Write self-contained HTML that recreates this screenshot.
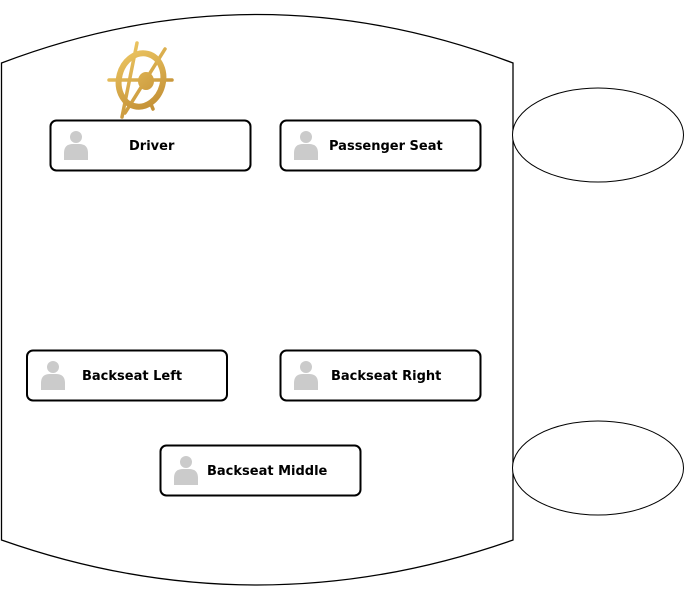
<!DOCTYPE html>
<html><head><style>body{margin:0;background:#fff}svg{display:block}text{font-family:"DejaVu Sans","Liberation Sans",sans-serif;font-weight:bold;font-size:13px;fill:#000}</style></head>
<body>
<svg width="684" height="604" viewBox="0 0 684 604">
<defs>
<g id="p"><circle cx="12" cy="8" r="6" fill="#cbcbcb"/><path d="M0 31 L0 24 Q0 15 9 15 L15 15 Q24 15 24 24 L24 31 Z" fill="#cbcbcb"/></g>
<linearGradient id="g" gradientUnits="userSpaceOnUse" x1="110" y1="45" x2="172" y2="117"><stop offset="0" stop-color="#f3cf6a"/><stop offset="1" stop-color="#b9822a"/></linearGradient>
</defs>
<path d="M1.5 63 Q257 -34 513 63 L513 540 Q257 630 1.5 540 Z" fill="#fff" stroke="#000" stroke-width="1.3"/>
<ellipse cx="598" cy="135" rx="85.5" ry="47" fill="#fff" stroke="#000" stroke-width="1"/>
<ellipse cx="598" cy="468" rx="85.5" ry="47" fill="#fff" stroke="#000" stroke-width="1"/>
<g stroke="url(#g)" stroke-width="3.5" stroke-linecap="round" fill="none">
<line x1="109" y1="80" x2="172" y2="80"/>
<line x1="137" y1="43" x2="122" y2="117"/>
<line x1="165" y1="49" x2="125" y2="113"/>
<line x1="153" y1="109" x2="150" y2="102"/>
</g>
<ellipse cx="141" cy="80" rx="22" ry="27" fill="none" stroke="url(#g)" stroke-width="6" transform="rotate(15 141 80)"/>
<ellipse cx="146" cy="81" rx="8" ry="9" fill="url(#g)"/>
<g fill="#fff" stroke="#000" stroke-width="2">
<rect x="50.5" y="120.5" width="200" height="50" rx="6"/>
<rect x="280.5" y="120.5" width="200" height="50" rx="6"/>
<rect x="27" y="350.5" width="200" height="50" rx="6"/>
<rect x="280.5" y="350.5" width="200" height="50" rx="6"/>
<rect x="160.5" y="445.5" width="200" height="50" rx="6"/>
</g>
<use href="#p" x="64" y="129"/>
<use href="#p" x="294" y="129"/>
<use href="#p" x="41" y="359"/>
<use href="#p" x="294" y="359"/>
<use href="#p" x="174" y="454"/>
<text x="129" y="150">Driver</text>
<text x="329" y="150">Passenger Seat</text>
<text x="82" y="380">Backseat Left</text>
<text x="331" y="380">Backseat Right</text>
<text x="207" y="475">Backseat Middle</text>
</svg>
</body></html>
